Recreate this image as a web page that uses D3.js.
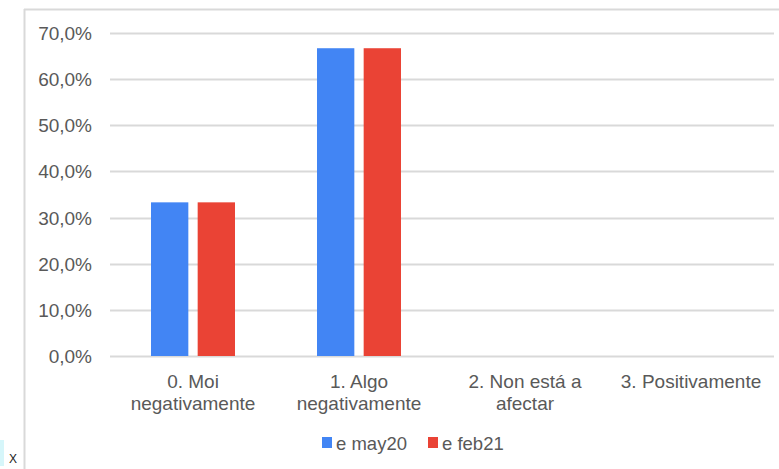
<!DOCTYPE html>
<html><head><meta charset="utf-8">
<script src="https://cdn.jsdelivr.net/npm/d3@7"></script>
<style>html,body{margin:0;padding:0;background:#fff;overflow:hidden}svg{display:block;font-family:"Liberation Sans",Arial,sans-serif}</style>
</head><body>
<svg id="c" width="779" height="469"></svg>
<script>
const categories = [["0. Moi","negativamente"],["1. Algo","negativamente"],["2. Non está a","afectar"],["3. Positivamente"]];
const seriesNames = ["e may20","e feb21"];
const may20 = [33.3, 66.7, 0, 0];
const feb21 = [33.3, 66.7, 0, 0];
const yTicks = [0,10,20,30,40,50,60,70];
const colors = ["#4285f4","#ea4335"];

(function(){
const svg = d3.select("#c");
svg.append("line").attr("x1",24).attr("x2",779).attr("y1",9.5).attr("y2",9.5).attr("stroke","#d9d9d9").attr("stroke-width",2);
svg.append("line").attr("x1",24.5).attr("x2",24.5).attr("y1",9).attr("y2",469).attr("stroke","#d9d9d9").attr("stroke-width",2);

const pLeft=110, pRight=774, pTop=33, pBottom=356;
const fs = 19;
const y = d3.scaleLinear().domain([0,70]).range([pBottom,pTop]);
const x0 = d3.scaleBand().domain(d3.range(categories.length)).range([pLeft,pRight]);
const x1 = d3.scaleBand().domain([0,1]).range([0,x0.bandwidth()*0.506]).paddingInner(0.2);
const groupOff = (x0.bandwidth() - x1.range()[1])/2;

svg.append("g").selectAll("line").data(yTicks).join("line")
  .attr("x1",pLeft).attr("x2",pRight).attr("y1",d=>Math.round(y(d))+0.5).attr("y2",d=>Math.round(y(d))+0.5)
  .attr("stroke","#d9d9d9").attr("stroke-width",2);

svg.append("g").selectAll("text").data(yTicks).join("text")
  .attr("x",92).attr("y",d=>y(d)+7).attr("text-anchor","end")
  .attr("font-size",fs).attr("fill","#595959")
  .text(d=>d.toFixed(1).replace(".",",")+"%");

[may20, feb21].forEach((vals,si)=>{
  svg.append("g").selectAll("rect").data(vals).join("rect")
    .attr("x",(d,i)=>x0(i)+groupOff+x1(si))
    .attr("width",x1.bandwidth())
    .attr("y",d=>y(d)).attr("height",d=>pBottom-y(d))
    .attr("fill",colors[si]);
});

const cg = svg.append("g");
categories.forEach((lines,i)=>{
  const cx = x0(i)+x0.bandwidth()/2;
  const t = cg.append("text").attr("x",cx).attr("y",388)
    .attr("text-anchor","middle").attr("font-size",fs).attr("fill","#595959");
  lines.forEach((l,j)=>t.append("tspan").attr("x",cx).attr("dy",j?22:0).text(l));
});

const lx=[322,428];
seriesNames.forEach((n,i)=>{
  svg.append("rect").attr("x",lx[i]).attr("y",437).attr("width",10).attr("height",11).attr("fill",colors[i]);
  svg.append("text").attr("x",lx[i]+14).attr("y",450).attr("font-size",18.5).attr("fill","#595959").text(n);
});

svg.append("rect").attr("x",0).attr("y",440).attr("width",4).attr("height",26).attr("fill","#d6f6fa");
svg.append("text").attr("x",9).attr("y",463).attr("font-size",12).attr("fill","#222").text("X");
})();
</script>
</body></html>
